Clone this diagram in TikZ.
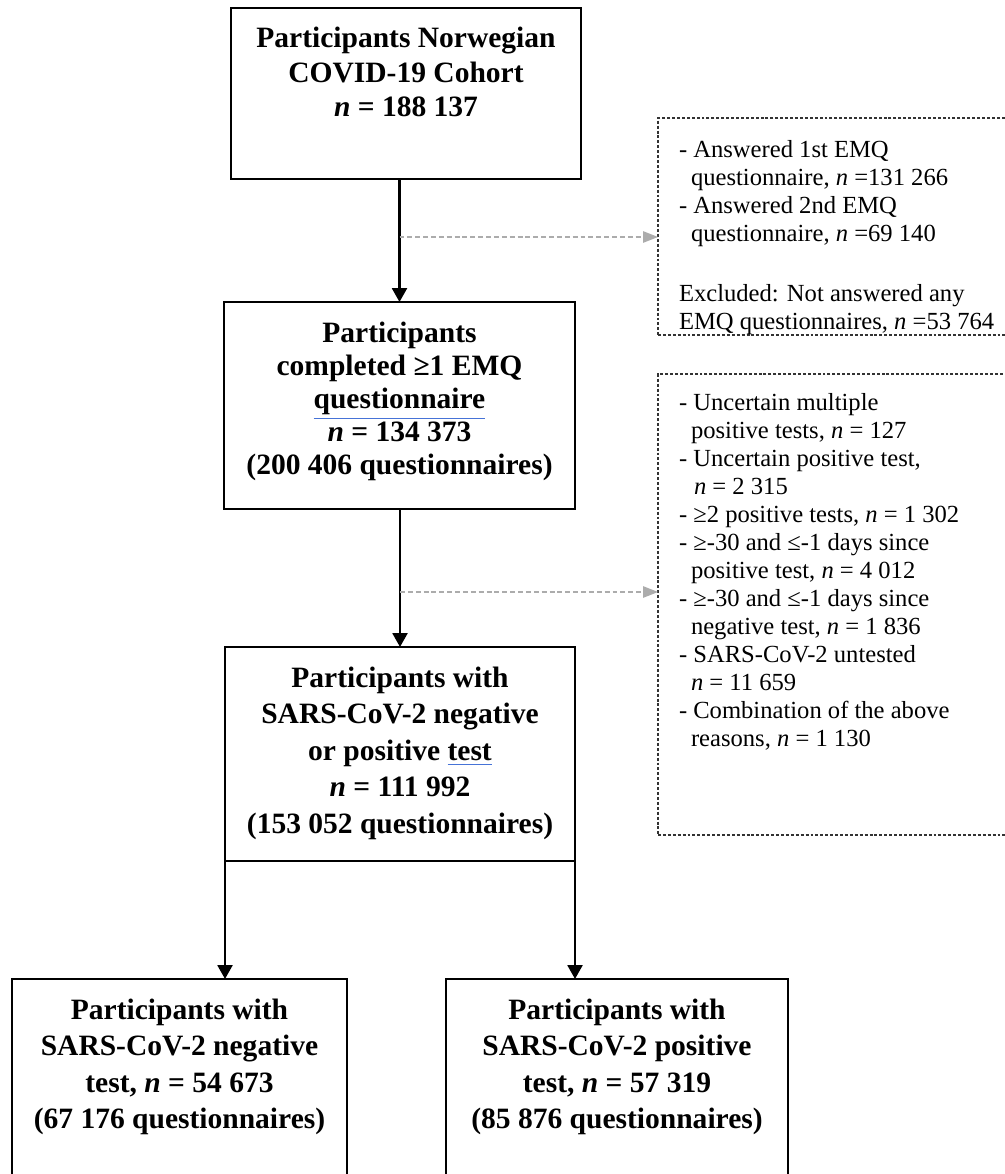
\documentclass[tikz,border=0pt]{standalone}
\usepackage{fontspec}
\setmainfont{Liberation Serif}
\usetikzlibrary{arrows.meta}
\newlength{\pxu}\setlength{\pxu}{0.4065pt}
\definecolor{gramblue}{RGB}{70,115,215}
\definecolor{exclgray}{RGB}{172,172,172}
% bold text of a flow box: width, height, line skip, lines
\newcommand{\boxtext}[4]{\parbox[t][#2\pxu][t]{#1\pxu}{\fontsize{12}{#3}\selectfont\bfseries\centering\rule{0pt}{40\pxu}#4}}
% plain text of an exclusion box: width, height, first baseline, lines
\newcommand{\sidetext}[4]{\parbox[t][#2\pxu][t]{#1\pxu}{\fontsize{10}{11.4pt}\selectfont\raggedright\leftskip=21\pxu\rule{0pt}{#3\pxu}#4}}
\newcommand{\gramul}[1]{\textcolor{gramblue}{\underline{\textcolor{black}{#1}}}}
\newcommand{\ind}{\hspace*{12\pxu}}
\begin{document}
\begin{tikzpicture}[x=0.4065pt, y=-0.4065pt,
    mainbox/.style={draw, line width=1.2pt, inner sep=0pt, outer sep=0pt, anchor=north west},
    sidebox/.style={draw=black!80, line width=0.45pt, dash pattern=on 1.2pt off 0.8pt, inner sep=0pt, outer sep=0pt, anchor=north west},
    flow/.style={line width=1.05pt, -{Triangle[width=6pt, length=5.6pt]}},
    excl/.style={exclgray, line width=0.5pt, dash pattern=on 2pt off 1.2pt, -{Triangle[width=4.6pt, length=6pt]}}]
  \useasboundingbox (0,0) rectangle (1004,1174);
  \node[mainbox] (cohort) at (231,8) {\boxtext{350}{171}{13.9pt}{Participants Norwegian\\ COVID-19 Cohort\\ \textit{n} = 188 137}};
  \node[mainbox] (completed) at (224,302) {\boxtext{351}{207}{13.5pt}{Participants\\ completed ≥1 EMQ\\ \gramul{questionnaire}\\ \textit{n} = 134 373\\ (200 406 questionnaires)}};
  \node[mainbox] (tested) at (225,647) {\boxtext{350}{214}{14.9pt}{Participants with\\ SARS-CoV-2 negative\\ or positive \gramul{test}\\ \textit{n} = 111 992\\ (153 052 questionnaires)}};
  \node[mainbox] (negative) at (12,979) {\boxtext{335}{230}{14.9pt}{Participants with\\ SARS-CoV-2 negative\\ test, \textit{n} = 54 673\\ (67 176 questionnaires)}};
  \node[mainbox] (positive) at (446,979) {\boxtext{342}{230}{14.9pt}{Participants with\\ SARS-CoV-2 positive\\ test, \textit{n} = 57 319\\ (85 876 questionnaires)}};
  \node[sidebox] (answered) at (658,118) {\sidetext{360}{217}{39}{- Answered 1st EMQ\\ \ind questionnaire, \textit{n} =131 266\\ - Answered 2nd EMQ\\ \ind questionnaire, \textit{n} =69 140\\[13pt] Excluded: Not answered any\\ EMQ questionnaires, \textit{n} =53 764}};
  \node[sidebox] (removed) at (658,374) {\sidetext{360}{461}{36}{- Uncertain multiple\\ \ind positive tests, \textit{n} = 127\\ - Uncertain positive test,\\ \hspace*{15\pxu}\textit{n} = 2 315\\ - ≥2 positive tests, \textit{n} = 1 302\\ - ≥-30 and ≤-1 days since\\ \ind positive test, \textit{n} = 4 012\\ - ≥-30 and ≤-1 days since\\ \ind negative test, \textit{n} = 1 836\\ - SARS-CoV-2 untested\\ \ind\textit{n} = 11 659\\ - Combination of the above\\ \ind reasons, \textit{n} = 1 130}};
  % main flow
  \draw[flow] (completed.north |- cohort.south) -- (completed.north);
  \draw[flow] (tested.north |- completed.south) -- (tested.north);
  \draw[flow] (tested.south west) -- (tested.south west |- negative.north);
  \draw[flow] (tested.south east) -- (tested.south east |- positive.north);
  % exclusions
  \path (completed.north) ++(0,-65) coordinate (tap1);
  \path (tested.north) ++(0,-55) coordinate (tap2);
  \draw[excl] (tap1) -- (tap1 -| answered.west);
  \draw[excl] (tap2) -- (tap2 -| removed.west);
\end{tikzpicture}
\end{document}
